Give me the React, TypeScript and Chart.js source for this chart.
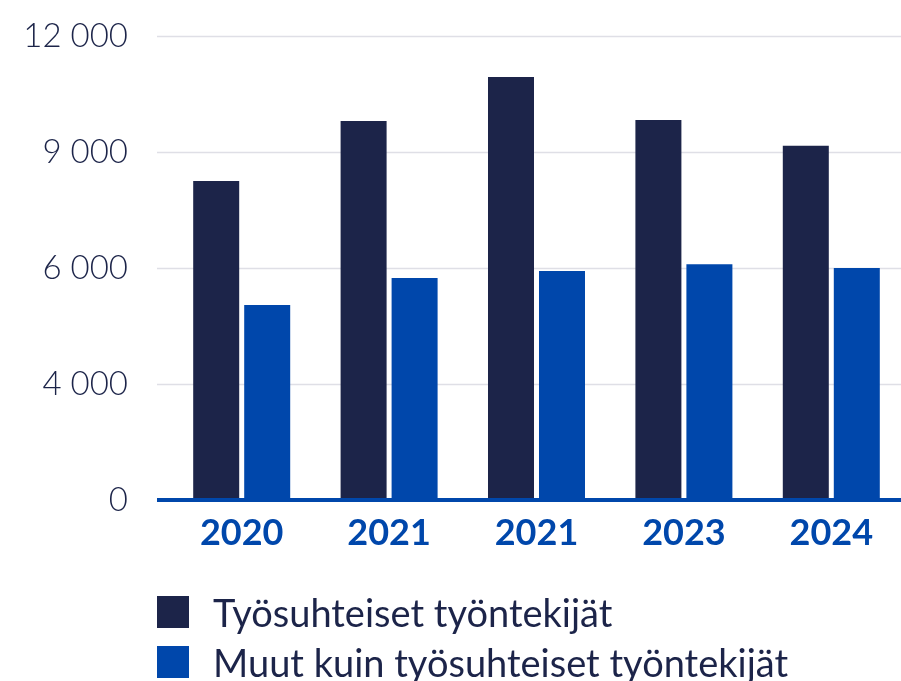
import React, { useEffect, useRef } from "react";
import { Chart, registerables } from "chart.js";

Chart.register(...registerables);

const categories = ["2020", "2021", "2021", "2023", "2024"];
const employees = [8250, 9800, 10940, 9830, 9160];
const nonEmployees = [5040, 5740, 5920, 6100, 6000];
const seriesNames = ["Työsuhteiset työntekijät", "Muut kuin työsuhteiset työntekijät"];
const tickLabels = ["0", "4 000", "6 000", "9 000", "12 000"];

const DARK = "#1c2449";
const BLUE = "#0047ab";
const GRID = "#dfdfe6";
const TEXT = "#1c2449";

export default function App() {
  const ref = useRef<HTMLCanvasElement | null>(null);

  useEffect(() => {
    const canvas = ref.current;
    if (!canvas) return;

    const linesPlugin = {
      id: "customLines",
      beforeDatasetsDraw(chart: any) {
        const { ctx, chartArea, scales } = chart;
        const y = scales.y;
        ctx.save();
        ctx.strokeStyle = GRID;
        ctx.lineWidth = 1.5;
        y.ticks.forEach((t: any) => {
          if (t.value === 0) return;
          const py = Math.round(y.getPixelForValue(t.value)) + 0.5;
          ctx.beginPath();
          ctx.moveTo(157, py);
          ctx.lineTo(chartArea.right, py);
          ctx.stroke();
        });
        ctx.restore();
      },
      afterDatasetsDraw(chart: any) {
        const { ctx, chartArea, scales } = chart;
        const py = scales.y.getPixelForValue(0);
        ctx.save();
        ctx.strokeStyle = BLUE;
        ctx.lineWidth = 4;
        ctx.beginPath();
        ctx.moveTo(157, py);
        ctx.lineTo(chartArea.right, py);
        ctx.stroke();
        ctx.restore();
      },
    };

    const chart = new Chart(canvas, {
      type: "bar",
      data: {
        labels: categories,
        datasets: [
          {
            label: seriesNames[0],
            data: employees,
            backgroundColor: DARK,
            categoryPercentage: 0.692,
            barPercentage: 0.902,
          },
          {
            label: seriesNames[1],
            data: nonEmployees,
            backgroundColor: BLUE,
            categoryPercentage: 0.692,
            barPercentage: 0.902,
          },
        ],
      },
      options: {
        responsive: false,
        animation: false,
        layout: { padding: { top: 36, left: 0, right: 0, bottom: 0 } },
        plugins: {
          legend: { display: false },
          tooltip: { enabled: false },
        },
        scales: {
          x: {
            grid: { display: false, drawTicks: false },
            border: { display: false },
            ticks: {
              color: BLUE,
              padding: 12,
              font: { family: "Lato", size: 36, weight: "bold" },
            },
            afterFit(scale: any) {
              scale.height = 181;
            },
          },
          y: {
            min: 0,
            max: 12000,
            grid: { display: false, drawTicks: false },
            border: { display: false },
            ticks: {
              stepSize: 3000,
              color: TEXT,
              padding: 40,
              font: { family: "Lato", size: 33, weight: "300" },
              callback: (_v: any, i: number) => tickLabels[i],
            },
            afterFit(scale: any) {
              scale.width = 168;
              scale.paddingTop = 0;
              scale.paddingBottom = 0;
            },
          },
        },
      },
      plugins: [linesPlugin],
    });

    return () => chart.destroy();
  }, []);

  const legendColors = [DARK, BLUE];

  return (
    <div
      style={{
        position: "absolute",
        left: 0,
        top: 0,
        width: 901,
        height: 681,
        overflow: "hidden",
        background: "#fff",
      }}
    >
      <canvas ref={ref} width={905} height={681} style={{ position: "absolute", left: 0, top: 0 }} />
      <div style={{ position: "absolute", left: 157, top: 596 }}>
        {seriesNames.map((name, i) => (
          <div
            key={name}
            style={{ display: "flex", alignItems: "center", height: 32, marginBottom: 18 }}
          >
            <div style={{ width: 32, height: 32, background: legendColors[i] }} />
            <span
              style={{
                marginLeft: 24,
                fontFamily: "Lato",
                fontSize: 38,
                color: TEXT,
                lineHeight: "32px",
                whiteSpace: "nowrap",
              }}
            >
              {name}
            </span>
          </div>
        ))}
      </div>
    </div>
  );
}
